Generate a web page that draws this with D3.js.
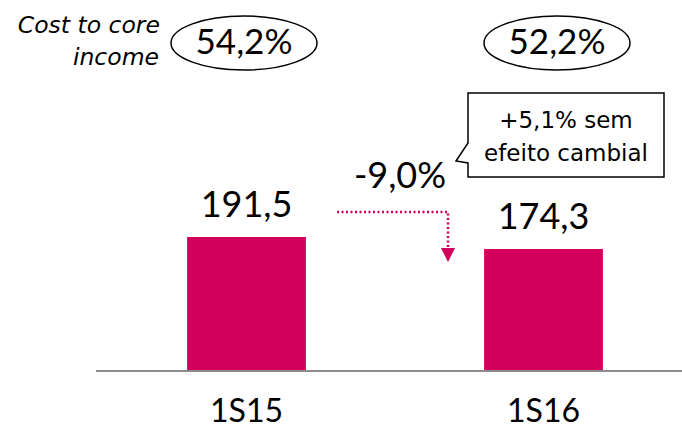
<!DOCTYPE html>
<html>
<head>
<meta charset="utf-8">
<script src="https://cdn.jsdelivr.net/npm/d3@7"></script>
<style>
body{margin:0;background:#fff;}
text{font-family:Lato, "DejaVu Sans", sans-serif;fill:#000;}
text.wide{font-family:"DejaVu Sans", sans-serif;}
</style>
</head>
<body>
<div id="content"></div>
<script>
//data
var categories = ['1S15', '1S16'];
var values     = [191.5, 174.3];
var valueLabels = ['191,5', '174,3'];
var ratios     = ['54,2%', '52,2%'];
var changeLabel = '-9,0%';
var noteLines  = ['+5,1% sem', 'efeito cambial'];

var W = 682, H = 429;
var barColor = '#d2005a';

var svg = d3.select('#content').append('svg')
    .attr('width', W).attr('height', H);

var x = d3.scaleBand().domain(categories).range([98, 692]).paddingInner(0.6).paddingOuter(0.3);
var y = d3.scaleLinear().domain([0, 191.5]).range([371, 237]);

//bars
svg.selectAll('rect.bar').data(values).enter().append('rect')
    .attr('class', 'bar')
    .attr('x', function(d, i){ return x(categories[i]); })
    .attr('y', function(d){ return y(d); })
    .attr('width', x.bandwidth())
    .attr('height', function(d){ return y(0) - y(d); })
    .attr('fill', barColor);

//axis line
svg.append('line')
    .attr('x1', 96).attr('x2', W).attr('y1', 371).attr('y2', 371)
    .attr('stroke', '#8c8c8c').attr('stroke-width', 2);

//category labels
svg.selectAll('text.cat').data(categories).enter().append('text')
    .attr('class', 'cat')
    .attr('x', function(d){ return x(d) + x.bandwidth()/2; })
    .attr('y', 422)
    .attr('text-anchor', 'middle')
    .attr('font-size', 32)
    .text(function(d){ return d; });

//value labels
svg.selectAll('text.val').data(values).enter().append('text')
    .attr('class', 'val')
    .attr('x', function(d, i){ return x(categories[i]) + x.bandwidth()/2; })
    .attr('y', function(d){ return y(d) - 20; })
    .attr('text-anchor', 'middle')
    .attr('font-size', 36)
    .text(function(d, i){ return valueLabels[i]; });

//ratio ellipses
var ellCx = [244, 557];
ratios.forEach(function(r, i){
    svg.append('ellipse')
        .attr('cx', ellCx[i]).attr('cy', 43).attr('rx', 73).attr('ry', 27)
        .attr('fill', 'none').attr('stroke', '#000').attr('stroke-width', 1.5);
    svg.append('text')
        .attr('x', ellCx[i]).attr('y', 54)
        .attr('text-anchor', 'middle').attr('font-size', 35)
        .text(r);
});

svg.append('text').attr('class', 'wide').attr('x', 160).attr('y', 33).attr('text-anchor', 'end')
    .attr('font-size', 23.5).attr('font-style', 'italic').text('Cost to core');
svg.append('text').attr('class', 'wide').attr('x', 159).attr('y', 65).attr('text-anchor', 'end')
    .attr('font-size', 23.5).attr('font-style', 'italic').text('income');

//change label and dotted arrow
svg.append('text').attr('x', 400).attr('y', 188).attr('text-anchor', 'middle')
    .attr('font-size', 36).text(changeLabel);

svg.append('path')
    .attr('d', 'M337,212 H448 V248')
    .attr('fill', 'none').attr('stroke', barColor)
    .attr('stroke-width', 2.5).attr('stroke-dasharray', '2,2.5');
svg.append('path')
    .attr('d', 'M441,248 L455,248 L448,262 Z')
    .attr('fill', barColor);

//callout
svg.append('path')
    .attr('d', 'M468,93 H664 V177 H468 V163 L456,161 L468,143 Z')
    .attr('fill', '#fff').attr('stroke', '#000').attr('stroke-width', 1.5);
svg.selectAll('text.note').data(noteLines).enter().append('text')
    .attr('class', 'note wide')
    .attr('x', 566)
    .attr('y', function(d, i){ return 128 + i*33; })
    .attr('text-anchor', 'middle')
    .attr('font-size', 23)
    .text(function(d){ return d; });
</script>
</body>
</html>
